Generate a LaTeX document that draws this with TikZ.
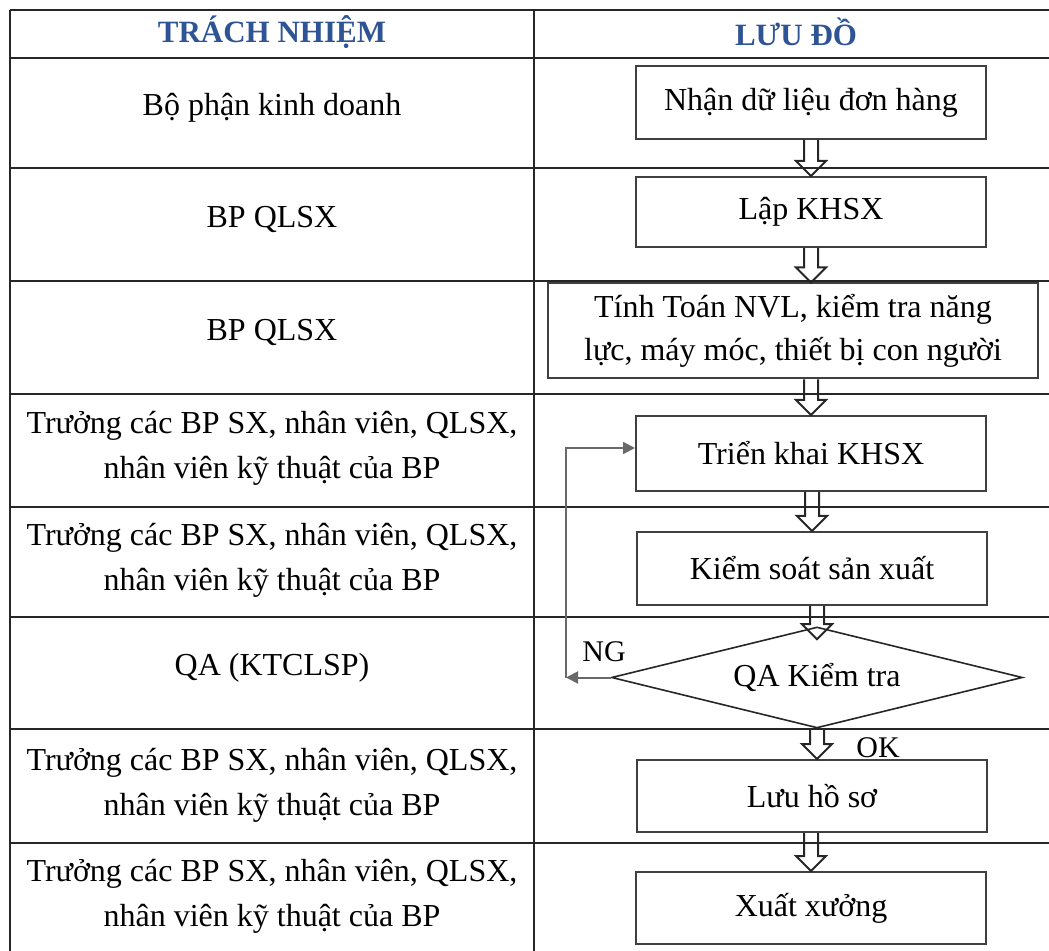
\documentclass[tikz,border=0pt]{standalone}
\usepackage{fontspec}
\setmainfont{Liberation Serif}
\usetikzlibrary{shapes.geometric,arrows.meta,positioning,calc}
\definecolor{headblue}{RGB}{46,84,150}
\definecolor{loopgray}{RGB}{105,105,105}

\newcommand{\flowarrow}[2]{%
  \draw[hollow] let \p1=(#1), \p2=(#2) in
    (\x2-3.5pt,\y1) -- (\x2-3.5pt,\y2+7.5pt) -- (\x2-7.5pt,\y2+7.5pt) -- (\x2,\y2)
    -- (\x2+7.5pt,\y2+7.5pt) -- (\x2+3.5pt,\y2+7.5pt) -- (\x2+3.5pt,\y1);}

\begin{document}
\begin{tikzpicture}[
    x=0.5pt, y=-0.5pt,
    grid/.style={line width=1pt, draw=black!85},
    head/.style={font=\fontsize{15.5}{18}\selectfont\bfseries, text=headblue},
    resp/.style={align=center, font=\fontsize{16}{22.5}\selectfont},
    box/.style={draw=black!75, line width=1pt, minimum width=175pt, minimum height=#1, align=center, inner sep=2pt, font=\fontsize{16}{21.5}\selectfont},
    box/.default=36pt,
    check/.style={diamond, aspect=4, draw=black!85, line width=0.8pt, minimum width=205.5pt, minimum height=50.5pt, inner sep=0pt, font=\fontsize{16}{20}\selectfont},
    hollow/.style={draw=black!85, line width=1pt, line join=miter},
    loop/.style={draw=loopgray, line width=1pt, -{Triangle[length=6pt, width=6pt]}},
    tag/.style={font=\fontsize{15}{18}\selectfont},
]
    \useasboundingbox (0,0) rectangle (1049,951);

    \foreach \y in {10,58,168,281,394,507,617,729,843}
        \draw[grid] (10,\y) -- (1049,\y);
    \draw[grid] (10,10) -- (10,951);
    \draw[grid] (534,10) -- (534,951);

    \node[head] (hresp) at (272,32) {TRÁCH NHIỆM};
    \node[head] (hflow) at (796,32) {LƯU ĐỒ};

    \node[resp] (resp1) at (272,108) {Bộ phận kinh doanh};
    \node[resp] (resp2) at (272,220) {BP QLSX};
    \node[resp] (resp3) at (272,333) {BP QLSX};
    \node[resp] (resp4) at (272,448) {Trưởng các BP SX, nhân viên, QLSX,\\nhân viên kỹ thuật của BP};
    \node[resp] (resp5) at (272,560) {Trưởng các BP SX, nhân viên, QLSX,\\nhân viên kỹ thuật của BP};
    \node[resp] (resp6) at (272,668) {QA (KTCLSP)};
    \node[resp] (resp7) at (272,785) {Trưởng các BP SX, nhân viên, QLSX,\\nhân viên kỹ thuật của BP};
    \node[resp] (resp8) at (272,896) {Trưởng các BP SX, nhân viên, QLSX,\\nhân viên kỹ thuật của BP};

    \node[box=36.5pt] (order) at (811,102.5) {Nhận dữ liệu đơn hàng};
    \node[box=35pt] (plan) at (811,212) {Lập KHSX};
    \node[box=47.5pt, minimum width=245pt] (calc) at (793,331) {Tính Toán NVL, kiểm tra năng\\lực, máy móc, thiết bị con người};
    \node[box=37.5pt] (deploy) at (811,453.5) {Triển khai KHSX};
    \node[box=36.5pt] (control) at (812,568.5) {Kiểm soát sản xuất};
    \node[check] (qa) at (817,677.5) {QA Kiểm tra};
    \node[box=36pt] (store) at (812,796) {Lưu hồ sơ};
    \node[box=36pt] (ship) at (811,908) {Xuất xưởng};

    \flowarrow{order.south}{plan.north}
    \flowarrow{plan.south}{plan.south |- calc.north}
    \flowarrow{calc.south}{deploy.north}
    \flowarrow{deploy.south}{control.north}
    \flowarrow{control.south}{$(qa.north)+(0,13)$}
    \flowarrow{qa.south}{qa.south |- store.north}
    \flowarrow{store.south}{ship.north}

    \coordinate (back) at (566,677.5);
    \draw[loop] (qa.west) -- (back);
    \draw[loop] (back) |- ($(deploy.west)+(0,-5.5)$);

    \node[tag] (ng) at (604,652) {NG};
    \node[tag] (ok) at (878,748) {OK};
\end{tikzpicture}
\end{document}
